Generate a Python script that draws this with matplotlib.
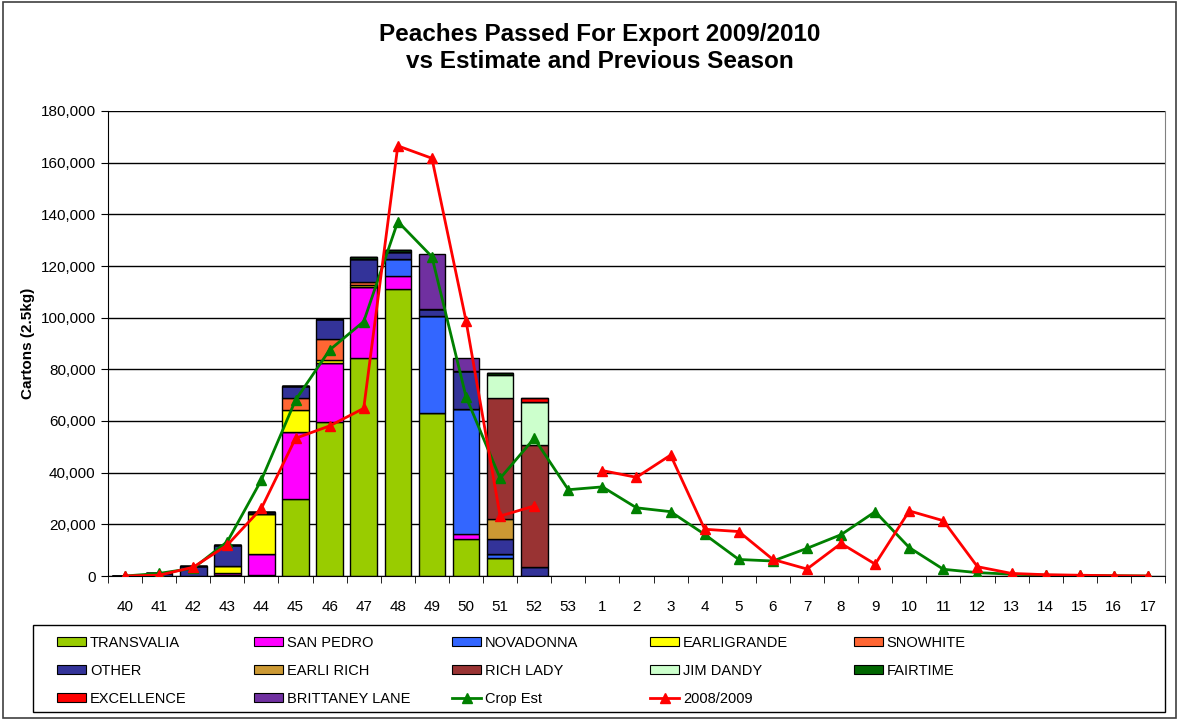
import numpy as np
import matplotlib
matplotlib.use("Agg")
import matplotlib.pyplot as plt
from matplotlib.patches import Patch, Rectangle
from matplotlib.lines import Line2D
from matplotlib.ticker import FuncFormatter

plt.rcParams['font.family'] = ['Liberation Sans', 'DejaVu Sans']

weeks = ['40', '41', '42', '43', '44', '45', '46', '47', '48', '49', '50', '51', '52', '53',
         '1', '2', '3', '4', '5', '6', '7', '8', '9', '10', '11', '12', '13', '14', '15', '16', '17']

# Varieties, weeks 40..52 (no shipments afterwards)
transvalia   = [0, 0, 0, 200, 500, 29800, 59500, 84500, 111000, 63000, 14300, 7100, 0]
san_pedro    = [0, 0, 0, 800, 8000, 26000, 22800, 27500, 5000, 0, 1800, 0, 0]
novadonna    = [0, 0, 0, 0, 0, 0, 0, 0, 6600, 37600, 48400, 1600, 0]
earligrande  = [0, 0, 0, 2800, 15400, 8300, 1300, 500, 0, 0, 0, 0, 0]
snowhite     = [0, 0, 0, 0, 0, 4900, 8000, 1200, 0, 0, 0, 0, 0]
other        = [0, 1000, 4000, 8100, 800, 4700, 7700, 8900, 3000, 2700, 14700, 5500, 3400]
earli_rich   = [0, 0, 0, 0, 0, 0, 0, 0, 0, 0, 0, 7700, 0]
rich_lady    = [0, 0, 0, 0, 0, 0, 0, 0, 0, 0, 0, 47000, 47300]
jim_dandy    = [0, 0, 0, 0, 0, 0, 0, 0, 0, 0, 0, 8800, 16800]
fairtime     = [0, 0, 0, 0, 0, 0, 0, 800, 600, 0, 0, 900, 0]
excellence   = [0, 0, 0, 0, 0, 0, 0, 0, 0, 0, 0, 0, 1300]
brittaney    = [0, 0, 0, 0, 0, 0, 0, 0, 0, 21300, 5300, 0, 0]

crop_est = [0, 1000, 3000, 13300, 37200, 68100, 87500, 98500, 137200, 123600, 69400, 37800, 53300,
            33400, 34500, 26400, 24900, 16100, 6400, 5800, 10700, 16000, 24900, 11000, 2600, 1300,
            700, 300, 200, 100, 0]
prev_season = [0, 300, 3400, 12000, 26200, 53300, 58100, 64900, 166500, 161700, 98800, 23200, 27100,
               np.nan, 40800, 38200, 46800, 18100, 17200, 6400, 2700, 12600, 4600, 25200, 21400, 3600,
               1000, 500, 300, 100, 0]

series = [
    ('TRANSVALIA', transvalia, '#99CC00'),
    ('SAN PEDRO', san_pedro, '#FF00FF'),
    ('NOVADONNA', novadonna, '#3366FF'),
    ('EARLIGRANDE', earligrande, '#FFFF00'),
    ('SNOWHITE', snowhite, '#FF6633'),
    ('OTHER', other, '#333399'),
    ('EARLI RICH', earli_rich, '#CC9933'),
    ('RICH LADY', rich_lady, '#993333'),
    ('JIM DANDY', jim_dandy, '#CCFFCC'),
    ('FAIRTIME', fairtime, '#006600'),
    ('EXCELLENCE', excellence, '#FF0000'),
    ('BRITTANEY LANE', brittaney, '#7030A0'),
]

fig = plt.figure(figsize=(11.79, 7.2), dpi=100)
ax = fig.add_axes([108/1179, 1-576/720, (1165-108)/1179, (576-111)/720])

x = np.arange(len(weeks))
nb = len(transvalia)
bottom = np.zeros(nb)
handles = {}
for name, vals, col in series:
    v = np.array(vals, dtype=float)
    ax.bar(x[:nb], v, 0.78, bottom=bottom, color=col, edgecolor='black', linewidth=1, zorder=2)
    bottom += v
    handles[name] = Patch(facecolor=col, edgecolor='black', linewidth=0.8)

ax.plot(x, crop_est, color='#008000', lw=2, marker='^', markersize=7, zorder=4)
ax.plot(x, prev_season, color='#FF0000', lw=2, marker='^', markersize=7, zorder=5)
handles['Crop Est'] = Line2D([], [], color='#008000', lw=2, marker='^', markersize=7)
handles['2008/2009'] = Line2D([], [], color='#FF0000', lw=2, marker='^', markersize=7)

ax.set_xlim(-0.5, len(weeks) - 0.5)
ax.set_ylim(0, 180000)
ax.set_yticks(np.arange(0, 180001, 20000))
ax.yaxis.set_major_formatter(FuncFormatter(lambda v, p: f'{int(v):,}'))
ax.set_xticks(x)
ax.set_xticklabels(weeks)
ax.set_xticks(np.arange(-0.5, len(weeks), 1), minor=True)
ax.tick_params(axis='x', which='major', length=0, pad=17, labelsize=11)
ax.tick_params(axis='x', which='minor', length=5, direction='out', color='black')
ax.tick_params(axis='y', which='major', length=5, direction='out', labelsize=11, pad=4)
ax.grid(axis='y', color='black', lw=1, zorder=0)
ax.set_axisbelow(True)
ax.spines['top'].set_visible(False)
ax.spines['right'].set_color('#808080')
ax.spines['left'].set_color('black')
ax.spines['bottom'].set_color('black')
ax.set_ylabel('Cartons (2.5kg)', fontsize=11, fontweight='bold', labelpad=4)

fig.text(0.509, 1-35/720, 'Peaches Passed For Export 2009/2010', ha='center', va='center',
         fontsize=17.5, fontweight='bold')
fig.text(0.509, 1-62/720, 'vs Estimate and Previous Season', ha='center', va='center',
         fontsize=17.5, fontweight='bold')

# outer frame
fig.add_artist(Rectangle((3/1179, 2/720), 1-6/1179, 1-4/720, transform=fig.transFigure,
                         fill=False, edgecolor='#404040', lw=1.2))
# legend box
fig.add_artist(Rectangle((33/1179, 1-712/720), (1165-33)/1179, (712-625)/720, transform=fig.transFigure,
                         fill=False, edgecolor='black', lw=1))

legend_rows = [
    ['TRANSVALIA', 'SAN PEDRO', 'NOVADONNA', 'EARLIGRANDE', 'SNOWHITE'],
    ['OTHER', 'EARLI RICH', 'RICH LADY', 'JIM DANDY', 'FAIRTIME'],
    ['EXCELLENCE', 'BRITTANEY LANE', 'Crop Est', '2008/2009'],
]
col_x = [57, 254, 452, 650, 854]
for c, cx in enumerate(col_x):
    names = [row[c] for row in legend_rows if c < len(row)]
    fig.legend([handles[n] for n in names], names, loc='upper left',
               bbox_to_anchor=(cx/1179, 1-636/720), frameon=False, fontsize=10.5,
               handlelength=2.0, handleheight=0.6, handletextpad=0.25, labelspacing=0.95,
               borderpad=0, borderaxespad=0)

fig.savefig('out.png', dpi=100)
